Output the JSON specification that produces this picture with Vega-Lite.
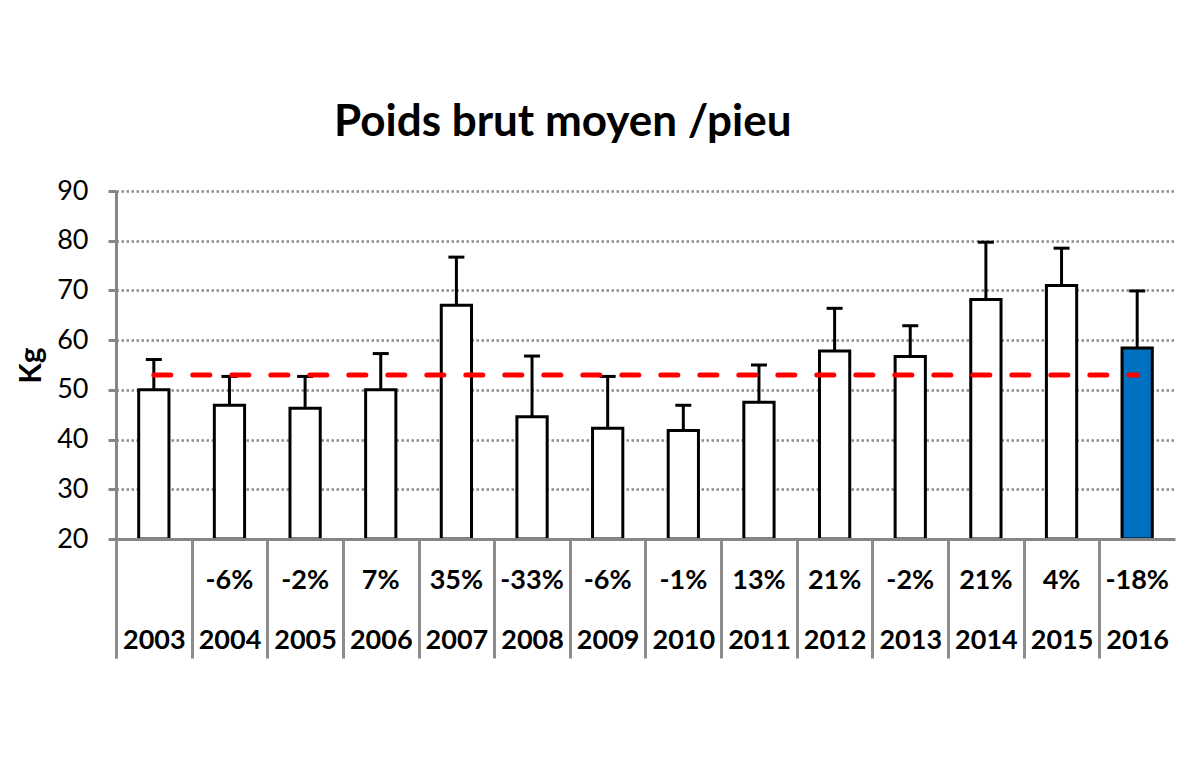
{
  "$schema": "https://vega.github.io/schema/vega-lite/v6.json",
  "width": 1059,
  "height": 348,
  "autosize": {"type": "none"},
  "padding": {"left": 116, "top": 191, "right": 20, "bottom": 218},
  "background": "white",
  "config": {"view": {"stroke": null}, "font": "Lato"},
  "title": {
    "text": "Poids brut moyen /pieu",
    "font": "Lato",
    "fontSize": 44,
    "fontWeight": "bold",
    "color": "black",
    "anchor": "start",
    "dx": 218,
    "dy": 57,
    "offset": 54,
    "baseline": "alphabetic",
    "frame": "group"
  },
  "data": {
    "values": [
      {"annee": "2003", "poids": 50.0, "haut": 56.1, "pct": "", "moyenne": 53},
      {"annee": "2004", "poids": 46.9, "haut": 52.7, "pct": "-6%", "moyenne": 53},
      {"annee": "2005", "poids": 46.3, "haut": 52.7, "pct": "-2%", "moyenne": 53},
      {"annee": "2006", "poids": 50.0, "haut": 57.3, "pct": "7%", "moyenne": 53},
      {"annee": "2007", "poids": 67.0, "haut": 76.7, "pct": "35%", "moyenne": 53},
      {"annee": "2008", "poids": 44.6, "haut": 56.8, "pct": "-33%", "moyenne": 53},
      {"annee": "2009", "poids": 42.3, "haut": 52.7, "pct": "-6%", "moyenne": 53},
      {"annee": "2010", "poids": 41.8, "haut": 46.9, "pct": "-1%", "moyenne": 53},
      {"annee": "2011", "poids": 47.5, "haut": 55.0, "pct": "13%", "moyenne": 53},
      {"annee": "2012", "poids": 57.8, "haut": 66.4, "pct": "21%", "moyenne": 53},
      {"annee": "2013", "poids": 56.7, "haut": 62.9, "pct": "-2%", "moyenne": 53},
      {"annee": "2014", "poids": 68.2, "haut": 79.7, "pct": "21%", "moyenne": 53},
      {"annee": "2015", "poids": 71.0, "haut": 78.5, "pct": "4%", "moyenne": 53},
      {"annee": "2016", "poids": 58.4, "haut": 69.9, "pct": "-18%", "moyenne": 53}
    ]
  },
  "encoding": {
    "x": {
      "field": "annee",
      "type": "nominal",
      "sort": null,
      "scale": {"paddingInner": 0.6, "paddingOuter": 0.3},
      "axis": {
        "title": null,
        "orient": "bottom",
        "zindex": 1,
        "bandPosition": 0,
        "tickExtra": true,
        "tickOffset": -22.7,
        "labelOffset": 22.7,
        "tickSize": 119,
        "tickWidth": 3,
        "tickColor": "#8c8c8c",
        "domainColor": "#868686",
        "domainWidth": 3,
        "labelFont": "Lato",
        "labelFontSize": 27,
        "labelFontWeight": "bold",
        "labelColor": "black",
        "labelBaseline": "alphabetic",
        "labelPadding": -10,
        "labelAngle": 0
      }
    }
  },
  "layer": [
    {
      "mark": {"type": "bar", "stroke": "black", "strokeWidth": 3, "opacity": 1},
      "encoding": {
        "y": {
          "field": "poids",
          "type": "quantitative",
          "title": "Kg",
          "scale": {"domain": [20, 90], "nice": false, "zero": false},
          "axis": {
            "values": [20, 30, 40, 50, 60, 70, 80, 90],
            "titleFont": "Lato",
            "titleFontSize": 30,
            "titleFontWeight": "bold",
            "titleColor": "black",
            "titlePadding": 10,
            "labelFont": "Lato",
            "labelFontSize": 27,
            "labelColor": "black",
            "labelPadding": 20,
            "tickSize": 8,
            "tickWidth": 3,
            "tickColor": "#868686",
            "domainColor": "#868686",
            "domainWidth": 3,
            "grid": true,
            "gridColor": "#8c8c8c",
            "gridDash": [2.5, 2.5],
            "gridWidth": 2.5
          }
        },
        "y2": {"datum": 20},
        "fill": {
          "condition": {"test": "datum.annee == '2016'", "value": "#0070C0"},
          "value": "white"
        }
      }
    },
    {
      "mark": {"type": "rule", "color": "black", "strokeWidth": 3, "opacity": 1},
      "encoding": {
        "y": {"field": "poids", "type": "quantitative", "title": "Kg"},
        "y2": {"field": "haut"}
      }
    },
    {
      "mark": {"type": "tick", "color": "black", "thickness": 3, "size": 16, "opacity": 1},
      "encoding": {
        "y": {"field": "haut", "type": "quantitative", "title": "Kg"}
      }
    },
    {
      "mark": {"type": "line", "color": "#FF0000", "strokeWidth": 5, "strokeDash": [17, 22], "strokeCap": "round"},
      "encoding": {
        "y": {"field": "moyenne", "type": "quantitative", "title": "Kg"}
      }
    },
    {
      "mark": {"type": "text", "font": "Lato", "fontSize": 27, "fontWeight": "bold", "baseline": "alphabetic", "dy": 50, "color": "black"},
      "encoding": {
        "y": {"datum": 20, "title": "Kg"},
        "text": {"field": "pct"}
      }
    }
  ]
}
